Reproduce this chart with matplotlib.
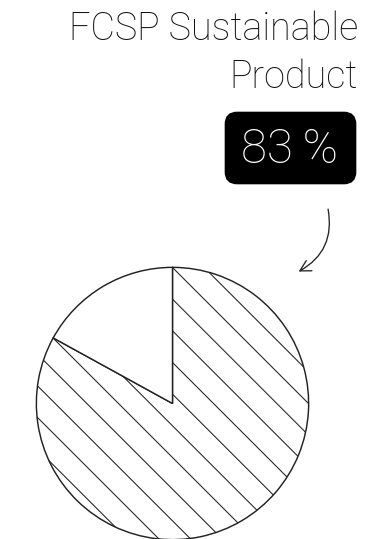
import matplotlib.pyplot as plt
from matplotlib.patches import FancyBboxPatch, FancyArrowPatch

plt.rcParams['hatch.linewidth'] = 0.4
plt.rcParams['font.family'] = ['Roboto', 'DejaVu Sans']

# data
labels = ['FCSP Sustainable Product', 'Other']
shares = [83, 17]
title_lines = ['FCSP Sustainable', 'Product']
badge = '83\u2009%'

W, H, DPI = 369, 539, 190
fig = plt.figure(figsize=(W / DPI, H / DPI), dpi=DPI)

def fx(px):
    return px / W

def fy(py):
    return 1 - py / H

# pie, 275 px wide, centred at (172.5, 403.5)
r = 137.5
ax = fig.add_axes([fx(172.5 - r), fy(403.5 + r), 2 * r / W, 2 * r / H])
wedges, _ = ax.pie(shares, startangle=90, counterclock=False,
                   colors=['white', 'white'], radius=1,
                   wedgeprops=dict(edgecolor='#222222', linewidth=0.55))
wedges[0].set_hatch('\\\\')
ax.set_xlim(-1.01, 1.01)
ax.set_ylim(-1.01, 1.01)
ax.axis('off')

# title
fig.text(fx(358), fy(40), title_lines[0], ha='right', va='baseline',
         fontsize=14.3, fontweight='light', color='#111111')
fig.text(fx(358), fy(88), title_lines[1], ha='right', va='baseline',
         fontsize=14.3, fontweight='light', color='#111111')

# badge
box = FancyBboxPatch((fx(226), fy(183)), fx(129), 70 / H,
                     boxstyle='round,pad=0.0,rounding_size=0.03',
                     transform=fig.transFigure, fc='black', ec='black',
                     mutation_aspect=W / H)
fig.add_artist(box)
fig.text(fx(289.5), fy(163), badge, ha='center', va='baseline',
         fontsize=18, fontweight='light', color='white')

# curved arrow
arr = FancyArrowPatch((fx(327), fy(204)), (fx(294), fy(274)),
                      transform=fig.transFigure,
                      connectionstyle='arc3,rad=-0.4',
                      arrowstyle='->,head_length=4,head_width=2.2',
                      color='#222222', lw=0.5)
fig.add_artist(arr)

fig.savefig('out.png', dpi=DPI, facecolor='white')
